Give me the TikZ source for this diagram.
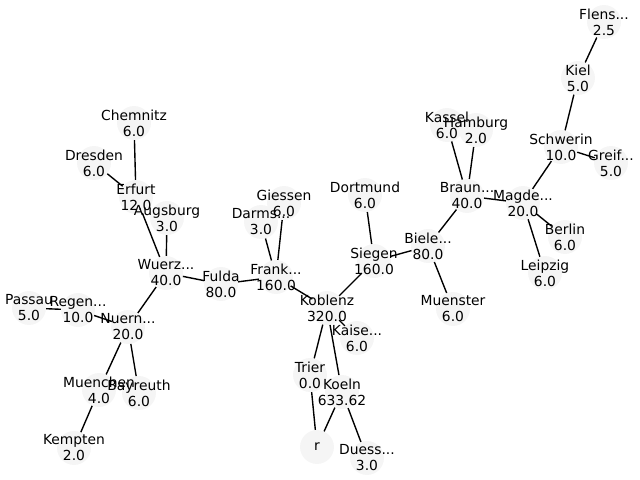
\documentclass[tikz,border=0pt]{standalone}
\usepackage{fontspec}
\setmainfont{DejaVu Sans}
\usepackage{tikz}
\pgfdeclarelayer{edges}
\pgfsetlayers{edges,main}
\definecolor{nodegrey}{HTML}{F5F5F5}
\tikzset{
city/.style={circle,fill=nodegrey,inner sep=0pt,outer sep=0pt,minimum size=24.5pt},
cityname/.style={inner sep=0pt,align=center,font=\fontsize{10}{11.5}\selectfont},
road/.style={black,line width=1pt},
}

\begin{document}
\begin{tikzpicture}[x=0.01in,y=-0.01in]
    \useasboundingbox (0,0) rectangle (640,480);
    % circles
    \node[city] (chemnitz) at (134,123) {};
    \node[city] (dresden) at (94,163) {};
    \node[city] (erfurt) at (136,197) {};
    \node[city] (augsburg) at (167,218) {};
    \node[city] (wuerz) at (166,273) {};
    \node[city] (fulda) at (221,284) {};
    \node[city] (frank) at (276,277) {};
    \node[city] (darms) at (261,222) {};
    \node[city] (giessen) at (284,203) {};
    \node[city] (passau) at (29,308) {};
    \node[city] (regen) at (78,310) {};
    \node[city] (nuern) at (128,327) {};
    \node[city] (muenchen) at (99,390) {};
    \node[city] (bayreuth) at (139,393) {};
    \node[city] (kempten) at (74,448) {};
    \node[city] (koblenz) at (327,308) {};
    \node[city] (kaise) at (357,338) {};
    \node[city] (trier) at (310,375) {};
    \node[city] (koeln) at (342,392) {};
    \node[city] (r) at (317,447) {};
    \node[city] (duess) at (367,458) {};
    \node[city] (dortmund) at (365,195) {};
    \node[city] (siegen) at (374,261) {};
    \node[city] (biele) at (428,246) {};
    \node[city] (muenster) at (453,309) {};
    \node[city] (braun) at (467,196) {};
    \node[city] (kassel) at (447,125) {};
    \node[city] (hamburg) at (476,130) {};
    \node[city] (magde) at (523,203) {};
    \node[city] (berlin) at (565,237) {};
    \node[city] (leipzig) at (545,273) {};
    \node[city] (schwerin) at (561,147) {};
    \node[city] (greif) at (611,163) {};
    \node[city] (kiel) at (578,78) {};
    \node[city] (flens) at (604,22) {};

    \begin{pgfonlayer}{edges}
        \draw[road] (chemnitz) -- (erfurt) (dresden) -- (erfurt) (erfurt) -- (wuerz);
        \draw[road] (augsburg) -- (wuerz) (wuerz) -- (fulda) (wuerz) -- (nuern);
        \draw[road] (fulda) -- (frank) (frank) -- (darms) (frank) -- (giessen) (frank) -- (koblenz);
        \draw[road] (passau) -- (regen) (regen) -- (nuern) (nuern) -- (muenchen) (nuern) -- (bayreuth);
        \draw[road] (muenchen) -- (kempten);
        \draw[road] (koblenz) -- (siegen) (koblenz) -- (trier) (koblenz) -- (koeln) (koblenz) -- (kaise);
        \draw[road] (trier) -- (r) (koeln) -- (r) (koeln) -- (duess);
        \draw[road] (siegen) -- (dortmund) (siegen) -- (biele) (biele) -- (muenster) (biele) -- (braun);
        \draw[road] (braun) -- (kassel) (braun) -- (hamburg) (braun) -- (magde);
        \draw[road] (magde) -- (berlin) (magde) -- (leipzig) (magde) -- (schwerin);
        \draw[road] (schwerin) -- (greif) (schwerin) -- (kiel) (kiel) -- (flens);
    \end{pgfonlayer}

    % names and values
    \node[cityname] (chemnitz-t) at (chemnitz) {Chemnitz\\6.0};
    \node[cityname] (dresden-t) at (dresden) {Dresden\\6.0};
    \node[cityname] (erfurt-t) at (erfurt) {Erfurt\\12.0};
    \node[cityname] (augsburg-t) at (augsburg) {Augsburg\\3.0};
    \node[cityname] (wuerz-t) at (wuerz) {Wuerz...\\40.0};
    \node[cityname] (fulda-t) at (fulda) {Fulda\\80.0};
    \node[cityname] (frank-t) at (frank) {Frank...\\160.0};
    \node[cityname] (darms-t) at (darms) {Darms...\\3.0};
    \node[cityname] (giessen-t) at (giessen) {Giessen\\6.0};
    \node[cityname] (passau-t) at (passau) {Passau\\5.0};
    \node[cityname] (regen-t) at (regen) {Regen...\\10.0};
    \node[cityname] (nuern-t) at (nuern) {Nuern...\\20.0};
    \node[cityname] (muenchen-t) at (muenchen) {Muenchen\\4.0};
    \node[cityname] (bayreuth-t) at (bayreuth) {Bayreuth\\6.0};
    \node[cityname] (kempten-t) at (kempten) {Kempten\\2.0};
    \node[cityname] (koblenz-t) at (koblenz) {Koblenz\\320.0};
    \node[cityname] (kaise-t) at (kaise) {Kaise...\\6.0};
    \node[cityname] (trier-t) at (trier) {Trier\\0.0};
    \node[cityname] (koeln-t) at (koeln) {Koeln\\633.62};
    \node[cityname] (r-t) at (r) {r};
    \node[cityname] (duess-t) at (duess) {Duess...\\3.0};
    \node[cityname] (dortmund-t) at (dortmund) {Dortmund\\6.0};
    \node[cityname] (siegen-t) at (siegen) {Siegen\\160.0};
    \node[cityname] (biele-t) at (biele) {Biele...\\80.0};
    \node[cityname] (muenster-t) at (muenster) {Muenster\\6.0};
    \node[cityname] (braun-t) at (braun) {Braun...\\40.0};
    \node[cityname] (kassel-t) at (kassel) {Kassel\\6.0};
    \node[cityname] (hamburg-t) at (hamburg) {Hamburg\\2.0};
    \node[cityname] (magde-t) at (magde) {Magde...\\20.0};
    \node[cityname] (berlin-t) at (berlin) {Berlin\\6.0};
    \node[cityname] (leipzig-t) at (leipzig) {Leipzig\\6.0};
    \node[cityname] (schwerin-t) at (schwerin) {Schwerin\\10.0};
    \node[cityname] (greif-t) at (greif) {Greif...\\5.0};
    \node[cityname] (kiel-t) at (kiel) {Kiel\\5.0};
    \node[cityname] (flens-t) at (flens) {Flens...\\2.5};
\end{tikzpicture}
\end{document}
